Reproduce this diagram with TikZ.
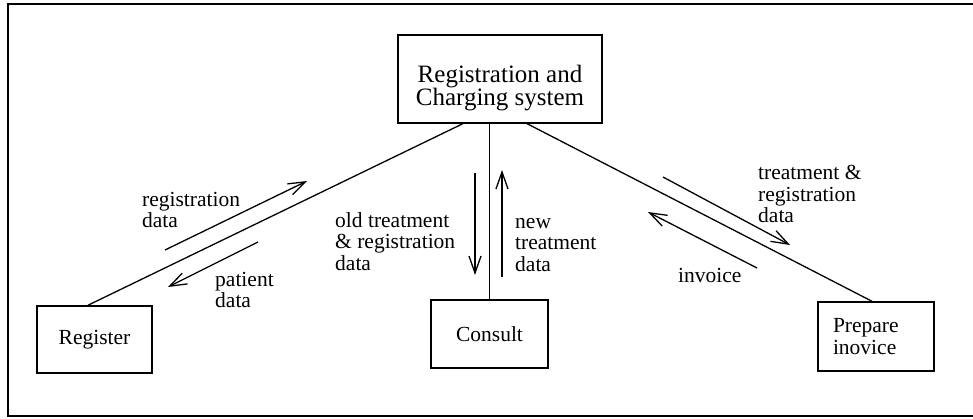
\documentclass[tikz,border=0pt]{standalone}
\usepackage{fontspec}
\setmainfont{Liberation Serif}
\usetikzlibrary{arrows.meta,calc}

\tikzset{
  proc/.style={draw, line width=1.4pt, inner sep=0pt, align=center,
    font=\fontsize{21.5}{21.5}\selectfont},
  lbl/.style={anchor=north west, inner sep=0pt, align=left,
    font=\fontsize{21.5}{21.5}\selectfont},
  link/.style={line width=1.3pt},
  flow/.style={line width=1.3pt, -{Straight Barb[length=17pt,width=12pt,line width=1.3pt]}},
}

\begin{document}
\begin{tikzpicture}[x=1pt,y=-1pt]
  \useasboundingbox (0,0) rectangle (973,418);

  % surrounding frame (open on the right)
  \draw[line width=1.4pt] (980,4) -- (8,4) -- (8,416) -- (980,416);

  % processes
  \node[proc, minimum width=204pt, minimum height=88pt] (sys) at (500,79) {};
  \node[align=center, inner sep=0pt, font=\fontsize{25}{21.5}\selectfont]
        (systext) at (500,88) {Registration and\\Charging system};
  \node[proc, minimum width=115pt, minimum height=67pt] (reg) at (94.5,339.5) {Register};
  \node[proc, minimum width=117pt, minimum height=68pt] (con) at (489.5,334) {Consult};
  \node[proc, minimum width=116pt, minimum height=69pt, text width=86pt, align=left]
        (inv) at (876,336.5) {Prepare\\inovice};

  % attachment points on the box edges
  \coordinate (sysL) at ($(sys.south west)!0.319!(sys.south east)$);
  \coordinate (sysR) at ($(sys.south west)!0.632!(sys.south east)$);
  \coordinate (regT) at ($(reg.north west)!0.443!(reg.north east)$);
  \coordinate (invT) at ($(inv.north west)!0.466!(inv.north east)$);

  % links
  \draw[link] (sysL) -- (regT);
  \draw[link] (sys.south -| con.north) -- (con.north);
  \draw[link] (sysR) -- (invT);

  % data flows
  \draw[flow] (165,250) -- (307,181);
  \draw[flow] (258,242) -- (168,287);
  \draw[flow] (475,173) -- (475,275);
  \draw[flow] (502,277) -- (502,170);
  \draw[flow] (663,177) -- (790,245);
  \draw[flow] (757,268) -- (648,212);

  % flow labels
  \node[lbl] (l1) at (142,192) {registration\\data};
  \node[lbl] (l2) at (215,272) {patient\\data};
  \node[lbl] (l3) at (335,212) {old treatment\\\& registration\\data};
  \node[lbl] (l4) at (515,218) {new\\treatment\\data};
  \node[lbl] (l5) at (758,165) {treatment \&\\registration\\data};
  \node[lbl] (l6) at (678,268) {invoice};
\end{tikzpicture}
\end{document}
